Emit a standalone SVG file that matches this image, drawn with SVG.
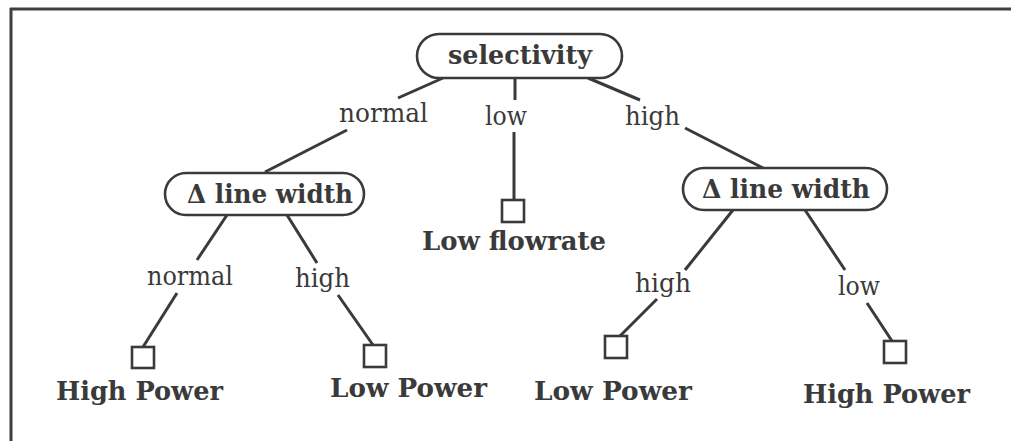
<svg xmlns="http://www.w3.org/2000/svg" width="1011" height="441" viewBox="0 0 1011 441">
<style>
.frame{stroke:#3c3f46;stroke-width:3;fill:none}
.node rect.box{fill:#fff;stroke:#3a3a3a;stroke-width:2.6}
.leaf rect{fill:#fff;stroke:#3a3a3a;stroke-width:2.6}
.conn line{stroke:#3a3a3a;stroke-width:3;stroke-linecap:butt}
.lbl{font-family:"DejaVu Serif","Liberation Serif",serif;font-size:26px;fill:#3a3a3a}
.b{font-family:"DejaVu Serif","Liberation Serif",serif;font-size:26px;font-weight:bold;fill:#3a3a3a}
</style>
<rect width="1011" height="441" fill="#fff"/>
<g id="frame">
<line class="frame" x1="10" y1="9" x2="1011" y2="9"/>
<line class="frame" x1="11" y1="8" x2="11" y2="441"/>
</g>
<g id="connectors" class="conn">
<line x1="443" y1="78" x2="398" y2="98"/>
<line x1="347" y1="130" x2="265" y2="172"/>
<line x1="515" y1="78" x2="515" y2="100"/>
<line x1="514" y1="132" x2="514" y2="200"/>
<line x1="588" y1="78" x2="640" y2="100"/>
<line x1="685" y1="128" x2="763" y2="168"/>
<line x1="227" y1="215" x2="197" y2="260"/>
<line x1="177" y1="293" x2="143" y2="347"/>
<line x1="287" y1="215" x2="317" y2="263"/>
<line x1="338" y1="295" x2="373" y2="345"/>
<line x1="733" y1="210" x2="685" y2="270"/>
<line x1="657" y1="299" x2="620" y2="336"/>
<line x1="805" y1="210" x2="845" y2="270"/>
<line x1="867" y1="303" x2="892" y2="341"/>
</g>
<g id="edge-labels">
<text class="lbl" x="339" y="122" textLength="89" lengthAdjust="spacingAndGlyphs">normal</text>
<text class="lbl" x="485" y="125" textLength="42" lengthAdjust="spacingAndGlyphs">low</text>
<text class="lbl" x="625" y="125" textLength="55" lengthAdjust="spacingAndGlyphs">high</text>
<text class="lbl" x="147" y="285" textLength="86" lengthAdjust="spacingAndGlyphs">normal</text>
<text class="lbl" x="295" y="287" textLength="55" lengthAdjust="spacingAndGlyphs">high</text>
<text class="lbl" x="635" y="292" textLength="56" lengthAdjust="spacingAndGlyphs">high</text>
<text class="lbl" x="838" y="295" textLength="42" lengthAdjust="spacingAndGlyphs">low</text>
</g>
<g id="selectivity" class="node">
<rect class="box" x="417" y="34" width="205" height="44" rx="22"/>
<text class="b" x="448" y="64" textLength="144" lengthAdjust="spacingAndGlyphs">selectivity</text>
</g>
<g id="linewidth-left" class="node">
<rect class="box" x="165" y="173" width="199" height="42" rx="21"/>
<text class="b" x="187" y="203" textLength="166" lengthAdjust="spacingAndGlyphs">Δ line width</text>
</g>
<g id="linewidth-right" class="node">
<rect class="box" x="683" y="168" width="204" height="42" rx="21"/>
<text class="b" x="702" y="198" textLength="168" lengthAdjust="spacingAndGlyphs">Δ line width</text>
</g>
<g id="low-flowrate" class="leaf">
<rect x="502" y="200" width="22" height="22"/>
<text class="b" x="422" y="250" textLength="184" lengthAdjust="spacingAndGlyphs">Low flowrate</text>
</g>
<g id="high-power-1" class="leaf">
<rect x="132" y="347" width="22" height="21"/>
<text class="b" x="56" y="400" textLength="167" lengthAdjust="spacingAndGlyphs">High Power</text>
</g>
<g id="low-power-1" class="leaf">
<rect x="364" y="345" width="22" height="22"/>
<text class="b" x="330" y="397" textLength="157" lengthAdjust="spacingAndGlyphs">Low Power</text>
</g>
<g id="low-power-2" class="leaf">
<rect x="605" y="336" width="22" height="22"/>
<text class="b" x="534" y="400" textLength="158" lengthAdjust="spacingAndGlyphs">Low Power</text>
</g>
<g id="high-power-2" class="leaf">
<rect x="884" y="341" width="22" height="22"/>
<text class="b" x="803" y="403" textLength="167" lengthAdjust="spacingAndGlyphs">High Power</text>
</g>
</svg>
